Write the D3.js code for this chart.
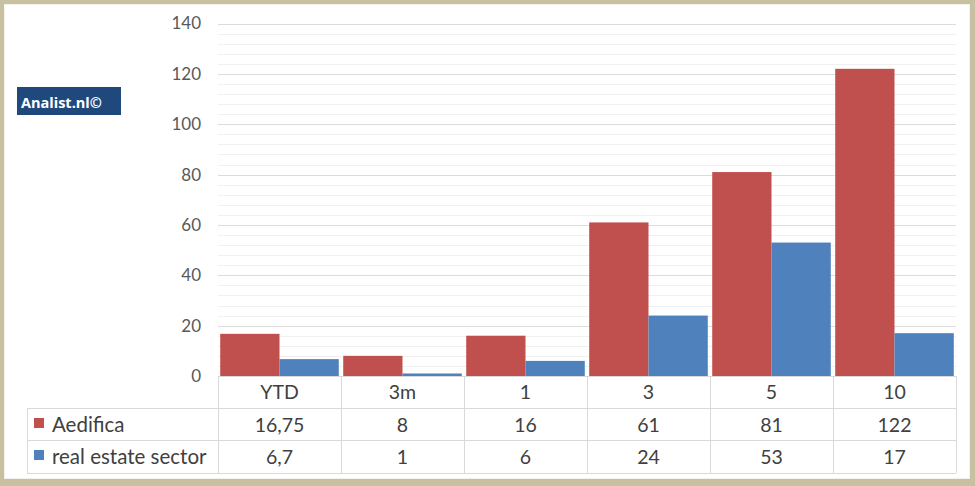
<!DOCTYPE html>
<html><head><meta charset="utf-8">
<script src="https://cdn.jsdelivr.net/npm/d3@7"></script>
<style>
html,body{margin:0;padding:0;background:#fff;}
svg{display:block;font-family:Lato,"Open Sans",sans-serif;}
</style></head>
<body>
<script>
const categories = ["YTD","3m","1","3","5","10"];
const seriesNames = ["Aedifica","real estate sector"];
const aedifica = [16.75, 8, 16, 61, 81, 122];
const sector = [6.7, 1, 6, 24, 53, 17];
const aedificaLabels = ["16,75","8","16","61","81","122"];
const sectorLabels = ["6,7","1","6","24","53","17"];
const yTicks = [0,20,40,60,80,100,120,140];
const colors = ["#c0504d","#4f81bd"];

(function(){
const W=975,H=486;
const svg=d3.select("body").append("svg").attr("width",W).attr("height",H);
// frame
svg.append("rect").attr("width",W).attr("height",H).attr("fill","#c7c1a2");
svg.append("rect").attr("x",4).attr("y",4).attr("width",966).attr("height",475).attr("fill","#f3f1ea");
svg.append("rect").attr("x",5).attr("y",5).attr("width",964).attr("height",473).attr("fill","#fff");

const pL=218,pR=956,pT=23.5,pB=376;
const x=d3.scaleBand().domain(categories).range([pL,pR]).paddingInner(0.036).paddingOuter(0.018);
const xOuter=d3.scaleBand().domain(categories).range([pL,pR]);
const xs=d3.scaleBand().domain(seriesNames).range([0,x.bandwidth()]);
const y=d3.scaleLinear().domain([0,140]).range([pB,pT]);

// minor gridlines
const minor=d3.range(0,141,4).filter(v=>v%20!==0);
svg.append("g").selectAll("line").data(minor).join("line")
  .attr("x1",pL).attr("x2",pR).attr("y1",d=>Math.round(y(d))+0.5).attr("y2",d=>Math.round(y(d))+0.5)
  .attr("stroke","#f0f0f0").attr("stroke-width",1);
// major gridlines
svg.append("g").selectAll("line").data(yTicks.filter(v=>v>0)).join("line")
  .attr("x1",pL).attr("x2",pR).attr("y1",d=>Math.round(y(d))+0.5).attr("y2",d=>Math.round(y(d))+0.5)
  .attr("stroke","#dcdcdc").attr("stroke-width",1.2);

// y axis
const yAxis=d3.axisLeft(y).tickValues(yTicks).tickSize(0).tickPadding(0);
const ga=svg.append("g").attr("transform",`translate(${201},0)`).call(yAxis);
ga.select(".domain").remove();
ga.selectAll("text").attr("font-size",17).attr("fill","#595959").attr("font-family","Lato,sans-serif");

// bars
const data=[aedifica,sector];
data.forEach((vals,si)=>{
  svg.append("g").selectAll("rect").data(categories).join("rect")
    .attr("x",(d)=>x(d)+xs(seriesNames[si]))
    .attr("width",xs.bandwidth())
    .attr("y",(d,i)=>y(vals[i]))
    .attr("height",(d,i)=>pB-y(vals[i]))
    .attr("fill",colors[si]);
});

// table
const rowTop=[376,408,440,473];
const lineC="#d9d9d9";
const tg=svg.append("g");
tg.append("line").attr("x1",pL).attr("x2",pR).attr("y1",376.5).attr("y2",376.5).attr("stroke",lineC);
[408,440,473].forEach(v=>{
  tg.append("line").attr("x1",27).attr("x2",pR).attr("y1",v+0.5).attr("y2",v+0.5).attr("stroke",lineC);
});
const vx=categories.map(c=>xOuter(c)).concat([pR]);
vx.forEach(v=>{
  tg.append("line").attr("x1",v+0.5).attr("x2",v+0.5).attr("y1",376).attr("y2",473).attr("stroke",lineC);
});
tg.append("line").attr("x1",27.5).attr("x2",27.5).attr("y1",408).attr("y2",473).attr("stroke",lineC);

tg.selectAll("text.cat").data(categories).join("text").attr("class","cat")
  .attr("x",d=>xOuter(d)+xOuter.bandwidth()/2).attr("y",399)
  .attr("text-anchor","middle").attr("font-size",19.5).attr("fill","#404040").text(d=>d);
[aedificaLabels,sectorLabels].forEach((labs,si)=>{
  tg.selectAll("text.v"+si).data(labs).join("text").attr("class","v"+si)
    .attr("x",(d,i)=>xOuter(categories[i])+xOuter.bandwidth()/2).attr("y",rowTop[si+1]+24)
    .attr("text-anchor","middle").attr("font-size",19.5).attr("fill","#404040").text(d=>d);
  tg.append("rect").attr("x",34).attr("y",rowTop[si+1]+10).attr("width",10).attr("height",10).attr("fill",colors[si]);
  tg.append("text").attr("x",52).attr("y",rowTop[si+1]+24).attr("font-size",20.5).attr("fill","#404040").text(seriesNames[si]);
});

// logo
svg.append("rect").attr("x",17).attr("y",87).attr("width",104).attr("height",28).attr("fill","#1f497d");
svg.append("text").attr("x",21).attr("y",107.5).attr("font-size",14.5).attr("font-weight","bold")
  .attr("fill","#fff").attr("font-family","'Open Sans',sans-serif").text("Analist.nl©");
})();
</script>
</body></html>
